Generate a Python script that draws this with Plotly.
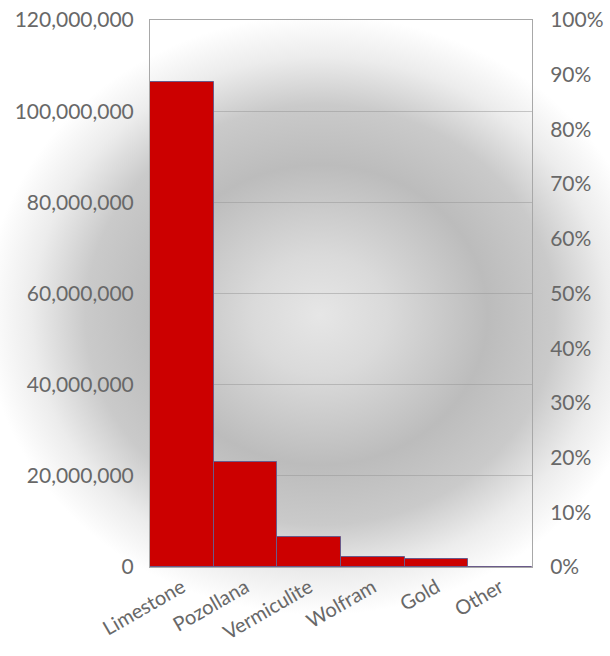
import base64
import plotly.graph_objects as go

categories = ["Limestone", "Pozollana", "Vermiculite", "Wolfram", "Gold", "Other"]
values = [106500000, 23000000, 6600000, 2200000, 1750000, 0]
left_ticks = [0, 20000000, 40000000, 60000000, 80000000, 100000000, 120000000]
right_ticks = [i / 10 for i in range(11)]

W, H = 610, 656
ML, MR, MT, MB = 150, 78, 20, 89
PW, PH = W - ML - MR, H - MT - MB

svg = (
    f'<svg xmlns="http://www.w3.org/2000/svg" width="{W}" height="{H}" viewBox="0 0 {W} {H}" preserveAspectRatio="none">'
    '<defs><radialGradient id="g" cx="0" cy="0" r="1" gradientUnits="userSpaceOnUse" '
    'gradientTransform="translate(320 315) scale(335 300)">'
    '<stop offset="0" stop-color="#e6e6e6"/>'
    '<stop offset="0.2" stop-color="#dadada"/>'
    '<stop offset="0.5" stop-color="#bcbcbc"/>'
    '<stop offset="0.7" stop-color="#cacaca"/>'
    '<stop offset="0.86" stop-color="#ececec"/>'
    '<stop offset="1" stop-color="#ffffff"/>'
    '</radialGradient></defs>'
    f'<rect width="{W}" height="{H}" fill="url(#g)"/></svg>'
)
bg = "data:image/svg+xml;base64," + base64.b64encode(svg.encode()).decode()

font_color = "#686868"
font_family = "Lato, 'Open Sans', sans-serif"

fig = go.Figure()
fig.add_trace(go.Bar(
    x=categories, y=values,
    marker=dict(color="#cc0000", line=dict(color="#6a5a8a", width=1)),
    hoverinfo="x+y",
))
fig.add_trace(go.Scatter(x=categories, y=[None] * len(categories), yaxis="y2",
                         mode="lines", showlegend=False, hoverinfo="skip"))

fig.update_layout(
    width=W, height=H,
    margin=dict(l=ML, r=MR, t=MT, b=MB, autoexpand=False),
    paper_bgcolor="white",
    plot_bgcolor="rgba(0,0,0,0)",
    showlegend=False,
    bargap=0,
    font=dict(family=font_family, size=21, color=font_color),
    images=[dict(source=bg, xref="paper", yref="paper",
                 x=-ML / PW, y=1 + MT / PH,
                 sizex=W / PW, sizey=H / PH, xanchor="left", yanchor="top",
                 sizing="stretch", layer="below")],
    xaxis=dict(
        showline=True, linecolor="#a8a8a8", linewidth=1, mirror=True,
        tickangle=-30, ticks="", ticklen=0, showgrid=False, automargin=False,
        tickfont=dict(size=20, color=font_color),
    ),
    yaxis=dict(
        range=[0, 120000000], tickvals=left_ticks, tickformat=",d",
        showline=True, linecolor="#a8a8a8", linewidth=1,
        showgrid=True, gridcolor="rgba(150,150,150,0.5)", gridwidth=1,
        zeroline=False, ticks="", ticklen=0, ticklabelstandoff=11, automargin=False,
        tickfont=dict(size=21, color=font_color),
    ),
    yaxis2=dict(
        overlaying="y", side="right", range=[0, 1], tickvals=right_ticks,
        tickformat=".0%", showgrid=False, zeroline=False,
        showline=True, linecolor="#a8a8a8", linewidth=1,
        ticks="", ticklen=0, ticklabelstandoff=13, automargin=False,
        tickfont=dict(size=21, color=font_color),
    ),
)

fig.write_html("out.html")
